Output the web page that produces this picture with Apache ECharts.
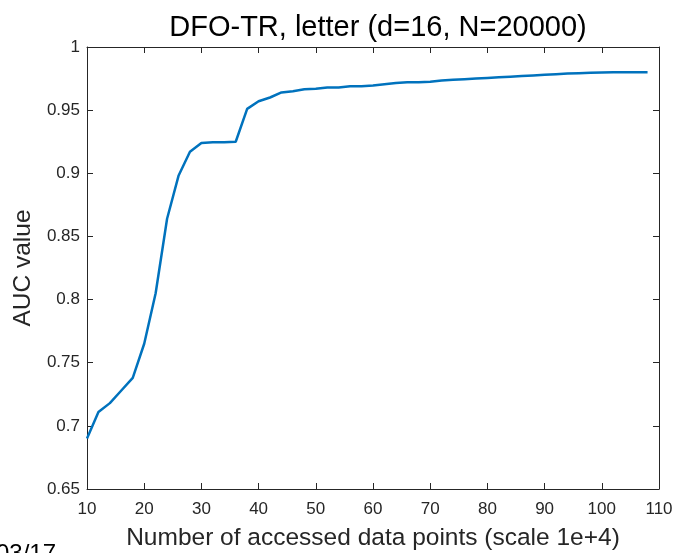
<!DOCTYPE html>
<html>
<head>
<meta charset="utf-8">
<script src="https://cdn.jsdelivr.net/npm/echarts@6/dist/echarts.min.js"></script>
<style>
  html, body { margin: 0; padding: 0; background: #fff; }
  #chart { width: 677px; height: 553px; }
</style>
</head>
<body>
<div id="chart"></div>
<script>
// Accessed data points (x 1e4) and the AUC reached at each step
const accessedPoints = [10, 12, 14, 16, 18, 20, 22, 24, 26, 28,
  30, 32, 34, 36, 38, 40, 42, 44, 46, 48,
  50, 52, 54, 56, 58, 60, 62, 64, 66, 68,
  70, 72, 74, 76, 78, 80, 82, 84, 86, 88,
  90, 92, 94, 96, 98, 100, 102, 104, 106, 108];
const aucValues = [0.690, 0.711, 0.718, 0.728, 0.738, 0.765, 0.805, 0.864, 0.898, 0.917,
  0.924, 0.9245, 0.9245, 0.925, 0.951, 0.957, 0.960, 0.964, 0.965, 0.9665,
  0.967, 0.968, 0.968, 0.969, 0.969, 0.9695, 0.9705, 0.9715, 0.972, 0.972,
  0.9725, 0.9735, 0.974, 0.9745, 0.975, 0.9755, 0.976, 0.9765, 0.977, 0.9775,
  0.978, 0.9785, 0.979, 0.9793, 0.9796, 0.9798, 0.980, 0.980, 0.980, 0.980];
const xTicks = [10, 20, 30, 40, 50, 60, 70, 80, 90, 100, 110];
const yTicks = [0.65, 0.7, 0.75, 0.8, 0.85, 0.9, 0.95, 1];

const FONT = '"Liberation Sans", Arial, Helvetica, sans-serif';
const INK = '#262626';

const chart = echarts.init(document.getElementById('chart'), null, { renderer: 'canvas' });

const xRange = { min: xTicks[0], max: xTicks[xTicks.length - 1], interval: xTicks[1] - xTicks[0] };
const yRange = { min: yTicks[0], max: yTicks[yTicks.length - 1], interval: 0.05 };

const frameAxisLine = { show: true, lineStyle: { color: INK, width: 1 } };
const innerTick = { show: true, inside: true, length: 6, lineStyle: { color: INK, width: 1 } };

chart.setOption({
  animation: false,
  backgroundColor: '#ffffff',
  title: {
    text: 'DFO-TR, letter (d=16, N=20000)',
    left: 373,
    top: 8,
    textAlign: 'center',
    textStyle: { fontFamily: FONT, fontSize: 29, fontWeight: 'normal', color: '#000' }
  },
  grid: {
    left: 87, right: 18, top: 47, bottom: 64,
    outerBoundsMode: 'none'
  },
  xAxis: [{
    type: 'value',
    ...xRange,
    position: 'bottom',
    name: 'Number of accessed data points (scale 1e+4)',
    nameLocation: 'middle',
    nameGap: 37,
    nameTextStyle: { fontFamily: FONT, fontSize: 24.5, color: INK },
    axisLine: frameAxisLine,
    axisTick: innerTick,
    splitLine: { show: false },
    axisLabel: { fontFamily: FONT, fontSize: 17, color: INK, margin: 12 }
  }, {
    type: 'value',
    ...xRange,
    position: 'top',
    axisLine: frameAxisLine,
    axisTick: innerTick,
    splitLine: { show: false },
    axisLabel: { show: false }
  }],
  yAxis: [{
    type: 'value',
    ...yRange,
    position: 'left',
    name: 'AUC value',
    nameLocation: 'middle',
    nameGap: 48,
    nameTextStyle: { fontFamily: FONT, fontSize: 24.5, color: INK },
    axisLine: frameAxisLine,
    axisTick: innerTick,
    splitLine: { show: false },
    axisLabel: {
      fontFamily: FONT, fontSize: 17, color: INK, margin: 7,
      formatter: v => String(+v.toFixed(2))
    }
  }, {
    type: 'value',
    ...yRange,
    position: 'right',
    axisLine: frameAxisLine,
    axisTick: innerTick,
    splitLine: { show: false },
    axisLabel: { show: false }
  }],
  graphic: [{
    type: 'text',
    left: -4,
    top: 542,
    style: { text: '03/17', fontFamily: FONT, fontSize: 24, fill: '#000' }
  }],
  series: [{
    type: 'line',
    xAxisIndex: 0,
    yAxisIndex: 0,
    data: accessedPoints.map((x, i) => [x, aucValues[i]]),
    showSymbol: false,
    lineStyle: { color: '#0072BD', width: 2.5 },
    clip: true
  }]
});
</script>
</body>
</html>
